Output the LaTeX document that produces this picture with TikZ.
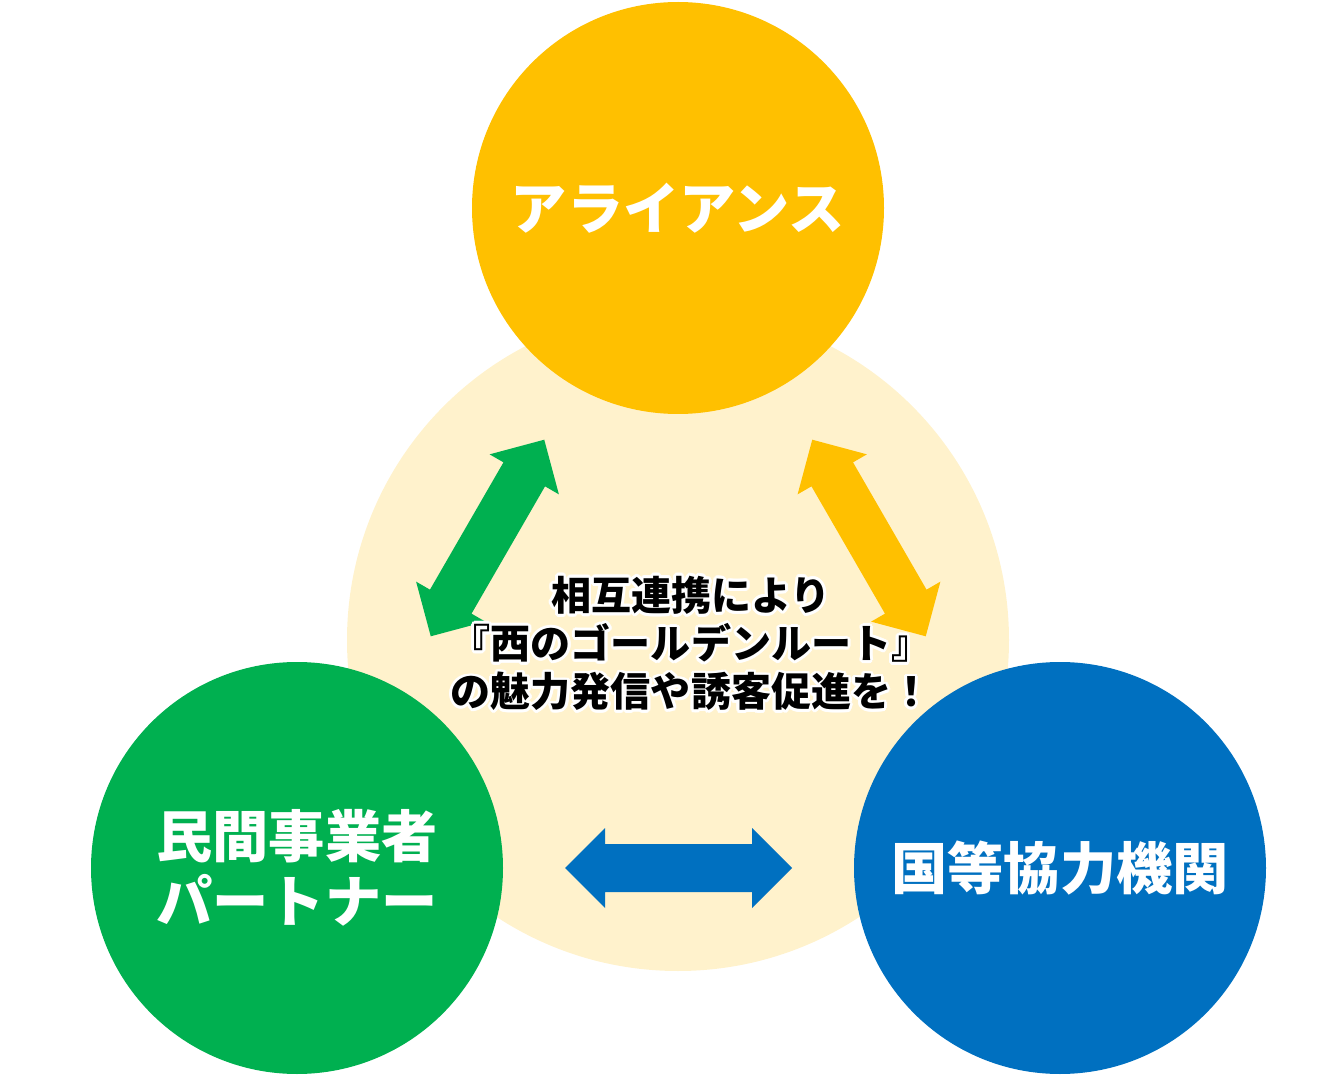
\documentclass[tikz,border=0pt]{standalone}
\usepackage{fontspec}
\setmainfont{Noto Sans CJK JP}
\usepackage{contour}
\contourlength{0.8pt}
\usetikzlibrary{calc}
\definecolor{allyyellow}{HTML}{FFC000}
\definecolor{partnergreen}{HTML}{00B050}
\definecolor{agencyblue}{HTML}{0070C0}
\definecolor{corepale}{HTML}{FFF2CC}

\begin{document}
\begin{tikzpicture}[
    hub/.style={circle, inner sep=0pt, minimum size=4.12cm, text=white,
                font=\bfseries\fontsize{16}{18.5}\selectfont, align=center},
    duoarrow/.pic={\fill[#1] (-1.135,0) -- (-0.735,0.4) -- (-0.735,0.24)
        -- (0.735,0.24) -- (0.735,0.4) -- (1.135,0) -- (0.735,-0.4)
        -- (0.735,-0.24) -- (-0.735,-0.24) -- (-0.735,-0.4) -- cycle;}]
  \useasboundingbox (0,0) rectangle (13.33,-10.77);
  % shared ground
  \node[circle, fill=corepale, minimum size=6.62cm, inner sep=0pt] (core) at (6.78,-6.40) {};
  % the three partners
  \node[hub, fill=allyyellow] (ally) at (6.78,-2.08) {アライアンス};
  \node[hub, fill=partnergreen] (biz) at (2.97,-8.68) {民間事業者\\パートナー};
  \node[hub, fill=agencyblue] (agency) at (10.60,-8.68) {国等協力機関};
  % mutual links
  \pic[rotate=60] at ($(ally)!0.5!(biz)$) {duoarrow=partnergreen};
  \pic[rotate=-60] at ($(ally)!0.5!(agency)$) {duoarrow=allyyellow};
  \pic at ($(biz)!0.5!(agency)$) {duoarrow=agencyblue};
  % message
  \node[font=\bfseries\fontsize{11.4}{13.7}\selectfont, align=center] (msg) at (6.91,-6.45)
    {\contour{white}{相互連携により}\\\contour{white}{『西のゴールデンルート』}\\
     \contour{white}{の魅力発信や誘客促進を！}};
\end{tikzpicture}
\end{document}
